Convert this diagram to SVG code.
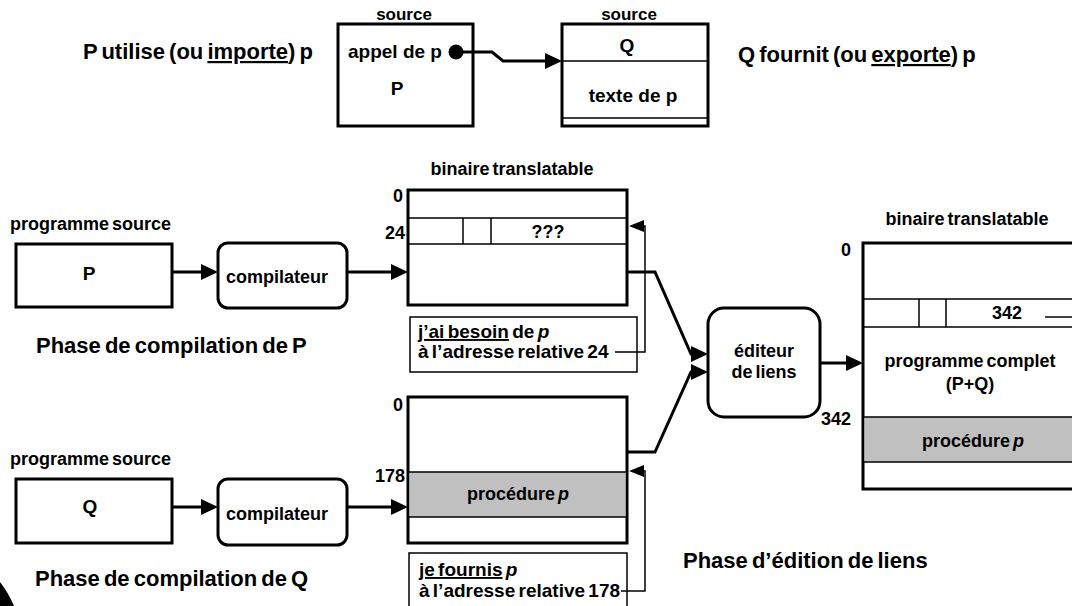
<svg xmlns="http://www.w3.org/2000/svg" width="1072" height="606" viewBox="0 0 1072 606">
<style>
text{font-family:"Liberation Sans",Arial,sans-serif;font-weight:bold;fill:#000}
.t21{font-size:22px;word-spacing:-2px}
.t18{font-size:18px;word-spacing:-2px}
.t19{font-size:19px}
.n19{font-size:19px;word-spacing:-2px}
.t17{font-size:17px}
.mid{text-anchor:middle}
.end{text-anchor:end}
.box{fill:#fff;stroke:#000;stroke-width:3}
.thin{fill:none;stroke:#000;stroke-width:1.5}
.gray{fill:#c0c0c0}
.conn{fill:none;stroke:#000;stroke-width:3}
.fb{fill:none;stroke:#000;stroke-width:1.5}
.u{text-decoration:underline}
.i{font-style:italic}
</style>
<defs>
<marker id="ah" markerUnits="userSpaceOnUse" markerWidth="18" markerHeight="16" refX="11" refY="8" orient="auto"><path d="M0,0 L17,8 L0,16 Z" fill="#000"/></marker>
<marker id="ahs" markerUnits="userSpaceOnUse" markerWidth="15" markerHeight="12" refX="10" refY="6" orient="auto"><path d="M0,0 L15,6 L0,12 Z" fill="#000"/></marker>
</defs>
<rect width="1072" height="606" fill="#fff"/>

<g id="title-import"><text x="83" y="59" class="t21">P utilise (ou <tspan class="u">importe</tspan>) p</text></g>
<g id="title-export"><text x="738" y="62" class="t21">Q fournit (ou <tspan class="u">exporte</tspan>) p</text></g>

<g id="src-P-top">
<text x="404" y="20" class="t17 mid">source</text>
<rect x="338" y="24" width="135" height="102" class="box"/>
<text x="348" y="58" class="t19">appel de p</text>
<text x="397" y="95" class="t19 mid">P</text>
</g>

<g id="src-Q-top">
<text x="629" y="20" class="t17 mid">source</text>
<rect x="562" y="24" width="146" height="102" class="box"/>
<path d="M562,61 H708 M562,118 H708" class="thin"/>
<text x="627" y="52" class="t19 mid">Q</text>
<text x="633" y="102" class="t19 mid">texte de p</text>
</g>

<g id="src-P">
<text x="10" y="230" class="t18">programme source</text>
<rect x="16" y="244" width="156" height="63" class="box"/>
<text x="89" y="280" class="t19 mid">P</text>
</g>

<g id="comp-P">
<rect x="218" y="243" width="129" height="65" rx="10" class="box"/>
<text x="277" y="283" class="t18 mid">compilateur</text>
</g>

<g id="bin-P">
<text x="512" y="175" class="t18 mid">binaire translatable</text>
<rect x="408" y="190" width="219" height="115" class="box"/>
<path d="M408,218 H627 M408,244 H627 M463,218 V244 M491,218 V244" class="thin"/>
<text x="403" y="202" class="t18 end">0</text>
<text x="405" y="239" class="t18 end">24</text>
<text x="548" y="238" class="t18 mid">???</text>
</g>

<g id="note-P">
<rect x="410" y="317" width="227" height="55" class="thin" fill="#fff"/>
<text x="418" y="338" class="n19"><tspan class="u">j’ai besoin</tspan> de <tspan class="i">p</tspan></text>
<text x="418" y="358" class="n19">à l’adresse relative 24</text>
</g>

<g id="phase-P"><text x="36" y="353" class="t21">Phase de compilation de P</text></g>

<g id="src-Q">
<text x="10" y="465" class="t18">programme source</text>
<rect x="16" y="479" width="156" height="64" class="box"/>
<text x="90" y="513" class="t19 mid">Q</text>
</g>

<g id="comp-Q">
<rect x="218" y="479" width="129" height="66" rx="10" class="box"/>
<text x="277" y="520" class="t18 mid">compilateur</text>
</g>

<g id="bin-Q">
<rect x="408" y="397" width="219" height="146" class="box"/>
<rect x="409.5" y="472" width="216" height="45" class="gray"/>
<path d="M408,472 H627 M408,517 H627" class="thin"/>
<text x="403" y="411" class="t18 end">0</text>
<text x="405" y="482" class="t18 end">178</text>
<text x="518" y="500" class="t18 mid">procédure <tspan class="i">p</tspan></text>
</g>

<g id="note-Q">
<rect x="409" y="553" width="218" height="60" class="thin" fill="#fff"/>
<text x="419" y="576" class="n19"><tspan class="u">je fournis</tspan> <tspan class="i">p</tspan></text>
<text x="419" y="597" class="n19">à l’adresse relative 178</text>
</g>

<g id="phase-Q"><text x="35" y="586" class="t21">Phase de compilation de Q</text></g>

<g id="editor">
<rect x="708" y="308" width="112" height="109" rx="16" class="box"/>
<text x="764" y="357" class="t18 mid">éditeur</text>
<text x="764" y="378" class="t18 mid">de liens</text>
</g>

<g id="bin-PQ">
<text x="967" y="225" class="t18 mid">binaire translatable</text>
<rect x="863" y="243" width="220" height="246" class="box"/>
<rect x="864.5" y="417" width="210" height="45" class="gray"/>
<path d="M863,299 H1072 M863,327 H1072 M919,299 V327 M946,299 V327 M863,417 H1072 M863,462 H1072" class="thin"/>
<text x="851" y="256" class="t18 end">0</text>
<text x="1007" y="319" class="t18 mid">342</text>
<text x="970" y="367" class="t18 mid">programme complet</text>
<text x="970" y="390" class="t18 mid">(P+Q)</text>
<text x="851" y="425" class="t18 end">342</text>
<text x="973" y="447" class="t18 mid">procédure <tspan class="i">p</tspan></text>
</g>

<g id="phase-link"><text x="683" y="568" class="t21">Phase d’édition de liens</text></g>

<g id="connectors">
<circle cx="456" cy="52" r="7.5"/>
<path d="M456,52 H492 L503,61 H556" class="conn" marker-end="url(#ah)"/>
<path d="M172,272 H212" class="conn" marker-end="url(#ah)"/>
<path d="M347,272 H402" class="conn" marker-end="url(#ah)"/>
<path d="M172,507 H212" class="conn" marker-end="url(#ah)"/>
<path d="M347,507 H402" class="conn" marker-end="url(#ah)"/>
<path d="M627,272 H655 L691,354 H702" class="conn" marker-end="url(#ah)"/>
<path d="M627,452 H655 L691,372 H702" class="conn" marker-end="url(#ah)"/>
<path d="M820,363 H857" class="conn" marker-end="url(#ah)"/>
<path d="M615,352 H645 V226 H634" class="fb" marker-end="url(#ahs)"/>
<path d="M621,591 H645 V471 H634" class="fb" marker-end="url(#ahs)"/>
<path d="M1045,317 H1072" class="fb"/>
</g>

<path d="M0,582 Q8,592 14,606 L0,606 Z" fill="#000"/>
</svg>
